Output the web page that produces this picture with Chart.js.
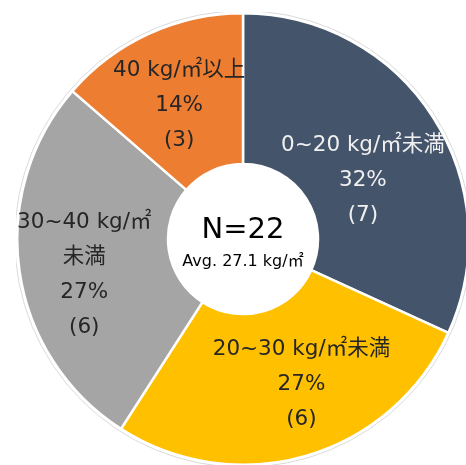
<!DOCTYPE html>
<html>
<head>
<meta charset="utf-8">
<script src="https://cdn.jsdelivr.net/npm/chart.js@4"></script>
<style>
  html, body { margin: 0; padding: 0; background: #fff; overflow: hidden; }
  #wrap { position: absolute; left: 16px; top: 12px; }
</style>
</head>
<body>
<div id="wrap"><canvas id="bmiChart" width="454" height="454"></canvas></div>
<script>
// data
var categories = [['0~20 kg/㎡未満'], ['20~30 kg/㎡未満'], ['30~40 kg/㎡', '未満'], ['40 kg/㎡以上']];
var counts = [7, 6, 6, 3];
var percents = ['32%', '27%', '27%', '14%'];
var totalLabel = 'N=22';
var avgLabel = 'Avg. 27.1 kg/㎡';

var sliceColors = ['#44546A', '#FFC000', '#A5A5A5', '#ED7D31'];
var textColors = ['#F0F0F0', '#262626', '#262626', '#262626'];
var labelRadius = [0.592, 0.695, 0.721, 0.656];
var labelShift = [6.5, -5.5, -4.6, -1]; // degrees
var fontFamily = '"DejaVu Sans", "Noto Sans CJK JP", sans-serif';

var sliceLabels = {
    id: 'sliceLabels',
    afterDatasetsDraw: function (chart) {
        var ctx = chart.ctx;
        var arcs = chart.getDatasetMeta(0).data;
        ctx.save();
        ctx.textAlign = 'center';
        ctx.textBaseline = 'middle';

        // faint outline round the ring
        var a0 = arcs[0];
        ctx.beginPath();
        ctx.arc(a0.x, a0.y, a0.outerRadius + 2.5, 0, Math.PI * 2);
        ctx.strokeStyle = '#DADADA';
        ctx.lineWidth = 1;
        ctx.stroke();

        arcs.forEach(function (arc, i) {
            var mid = (arc.startAngle + arc.endAngle) / 2 + labelShift[i] * Math.PI / 180;
            var r = arc.outerRadius * labelRadius[i];
            var x = arc.x + Math.cos(mid) * r;
            var y = arc.y + Math.sin(mid) * r;
            var lines = categories[i].concat([percents[i], '(' + counts[i] + ')']);
            var lh = 35;
            var y0 = y - (lines.length - 1) * lh / 2;
            ctx.fillStyle = textColors[i];
            ctx.font = '21.5px ' + fontFamily;
            lines.forEach(function (t, k) {
                ctx.fillText(t, x, y0 + k * lh);
            });
        });

        // center text
        ctx.fillStyle = '#000';
        ctx.font = '29px ' + fontFamily;
        ctx.fillText(totalLabel, a0.x, a0.y - 9);
        ctx.font = '16px ' + fontFamily;
        ctx.fillText(avgLabel, a0.x, a0.y + 23);
        ctx.restore();
    }
};

new Chart(document.getElementById('bmiChart').getContext('2d'), {
    type: 'doughnut',
    data: {
        labels: categories.map(function (c) { return c.join(''); }),
        datasets: [{
            data: counts,
            backgroundColor: sliceColors,
            borderColor: '#FFFFFF',
            borderWidth: 2.5
        }]
    },
    options: {
        responsive: false,
        animation: false,
        cutout: 75,
        layout: { padding: 0 },
        plugins: {
            legend: { display: false },
            tooltip: { enabled: false }
        }
    },
    plugins: [sliceLabels]
});
</script>
</body>
</html>
